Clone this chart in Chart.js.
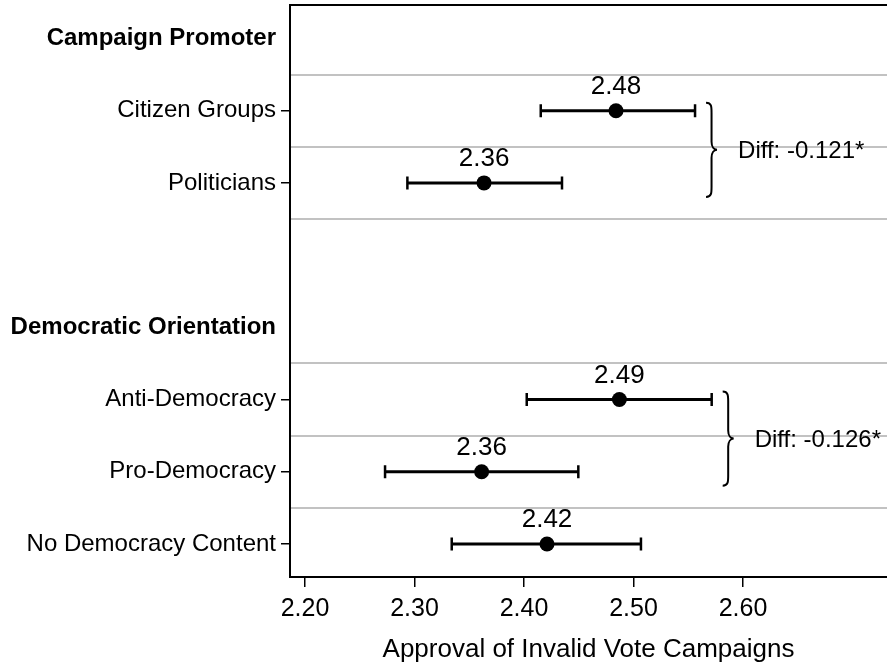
<!DOCTYPE html>
<html><head><meta charset="utf-8">
<script src="https://cdn.jsdelivr.net/npm/chart.js@4"></script>
<style>html,body{margin:0;padding:0;background:#fff;overflow:hidden}canvas{display:block}</style>
</head><body>
<canvas id="c" width="887" height="665"></canvas>
<script>
// ---- data ----
const rowLabels = ['Campaign Promoter','Citizen Groups','Politicians','','Democratic Orientation','Anti-Democracy','Pro-Democracy','No Democracy Content'];
const headerRows = [0,4];
const itemRows = [1,2,5,6,7];
const means = [2.484, 2.3635, 2.4871, 2.3613, 2.421];
const lower = [2.4153, 2.2935, 2.4025, 2.2731, 2.334];
const upper = [2.5562, 2.4347, 2.5714, 2.4496, 2.5068];
const meanLabels = ['2.48','2.36','2.49','2.36','2.42'];
const xTicks = [2.2,2.3,2.4,2.5,2.6];
const xTickLabels = ['2.20','2.30','2.40','2.50','2.60'];
const gridRows = [0.5,1.5,2.5,4.5,5.5,6.5];
const diffPairs = [[0,1],[2,3]];
const diffLabels = ['Diff: -0.121*','Diff: -0.126*'];
const xTitle = 'Approval of Invalid Vote Campaigns';
const xRange = [2.1863, 2.7315];
const yRange = [-0.464, 7.458];

const FONT = 'Liberation Sans, Arial, sans-serif';

const decor = {
  id:'decor',
  beforeDatasetsDraw(chart){
    const {ctx, chartArea:a, scales:{x, y}} = chart;
    ctx.save();
    ctx.strokeStyle = '#c2c2c2';
    ctx.lineWidth = 2;
    gridRows.forEach(r=>{
      const py = Math.round(y.getPixelForValue(r));
      ctx.beginPath(); ctx.moveTo(a.left+1, py); ctx.lineTo(a.right, py); ctx.stroke();
    });
    ctx.strokeStyle = '#000';
    means.forEach((m,i)=>{
      const py = y.getPixelForValue(itemRows[i]);
      const x1 = x.getPixelForValue(lower[i]), x2 = x.getPixelForValue(upper[i]);
      ctx.lineWidth = 3;
      ctx.beginPath();
      ctx.moveTo(x1, py); ctx.lineTo(x2, py);
      ctx.stroke();
      ctx.lineWidth = 2.5;
      ctx.beginPath();
      ctx.moveTo(x1, py-6.5); ctx.lineTo(x1, py+6.5);
      ctx.moveTo(x2, py-6.5); ctx.lineTo(x2, py+6.5);
      ctx.stroke();
    });
    ctx.restore();
  },
  afterDatasetsDraw(chart){
    const {ctx, chartArea:a, scales:{x, y}} = chart;
    ctx.save();
    ctx.fillStyle = '#000';
    ctx.font = '26px ' + FONT;
    ctx.textAlign = 'center';
    ctx.textBaseline = 'alphabetic';
    means.forEach((m,i)=>{
      const py = y.getPixelForValue(itemRows[i]);
      ctx.fillText(meanLabels[i], x.getPixelForValue(m), py - 17);
    });
    // braces
    ctx.font = '24px ' + FONT;
    ctx.strokeStyle = '#000';
    ctx.lineWidth = 2;
    ctx.textAlign = 'left';
    diffPairs.forEach(([i,j],k)=>{
      const bx = x.getPixelForValue(Math.max(upper[i], upper[j])) + 11;
      const y1 = y.getPixelForValue(itemRows[i]) - 8;
      const y2 = y.getPixelForValue(itemRows[j]) + 14;
      const ym = (y1+y2)/2, w = 11, h = w*0.5;
      ctx.beginPath();
      ctx.moveTo(bx, y1);
      ctx.bezierCurveTo(bx+h, y1, bx+h, y1+4, bx+h, y1+10);
      ctx.lineTo(bx+h, ym-8);
      ctx.bezierCurveTo(bx+h, ym-3, bx+w-3, ym, bx+w, ym);
      ctx.bezierCurveTo(bx+w-3, ym, bx+h, ym+3, bx+h, ym+8);
      ctx.lineTo(bx+h, y2-10);
      ctx.bezierCurveTo(bx+h, y2-4, bx+h, y2, bx, y2);
      ctx.stroke();
      ctx.fillText(diffLabels[k], bx + w + 21, ym + 8);
    });
    // top border
    ctx.lineWidth = 2;
    ctx.beginPath(); ctx.moveTo(a.left-1, a.top); ctx.lineTo(a.right, a.top); ctx.stroke();
    ctx.restore();
  }
};

new Chart(document.getElementById('c'), {
  type:'scatter',
  data:{ datasets:[{
    data: means.map((m,i)=>({x:m, y:itemRows[i]})),
    backgroundColor:'#000', borderColor:'#000', pointRadius:7.5, pointHoverRadius:7.5, borderWidth:0
  }]},
  options:{
    responsive:false, animation:false, devicePixelRatio:1,
    layout:{autoPadding:false, padding:{left:0, top:5, right:0, bottom:0}},
    plugins:{legend:{display:false}, tooltip:{enabled:false}},
    scales:{
      x:{
        type:'linear', min:xRange[0], max:xRange[1],
        afterBuildTicks: s=>{ s.ticks = xTicks.map(v=>({value:v})); },
        ticks:{ callback:(v,i)=>xTickLabels[i], font:{family:FONT, size:25}, color:'#000', padding:7, maxRotation:0, autoSkip:false },
        grid:{ drawOnChartArea:false, drawTicks:true, tickLength:10, color:'#000', lineWidth:1.5 },
        border:{ color:'#000', width:2 },
        title:{ display:true, text:xTitle, font:{family:FONT, size:26}, color:'#000', padding:{top:0, bottom:0} },
        afterFit: s=>{ s.height = 88; s.paddingLeft = 0; s.paddingRight = 0; }
      },
      y:{
        type:'linear', reverse:true, min:yRange[0], max:yRange[1],
        afterBuildTicks: s=>{ s.ticks = rowLabels.map((_,i)=>({value:i})); },
        ticks:{ callback:(v,i)=>rowLabels[i],
          font: c=>({family:FONT, size:24, weight: headerRows.includes(c.index)?'bold':'normal'}),
          color:'#000', padding:5, autoSkip:false },
        grid:{ drawOnChartArea:false, tickLength:9, lineWidth:1.5,
          color: c=> itemRows.includes(c.index) ? '#000' : 'rgba(0,0,0,0)' },
        border:{ color:'#000', width:2 },
        afterFit: s=>{ s.width = 290; s.paddingTop = 0; s.paddingBottom = 0; }
      }
    }
  },
  plugins:[decor]
});
</script>
</body></html>
